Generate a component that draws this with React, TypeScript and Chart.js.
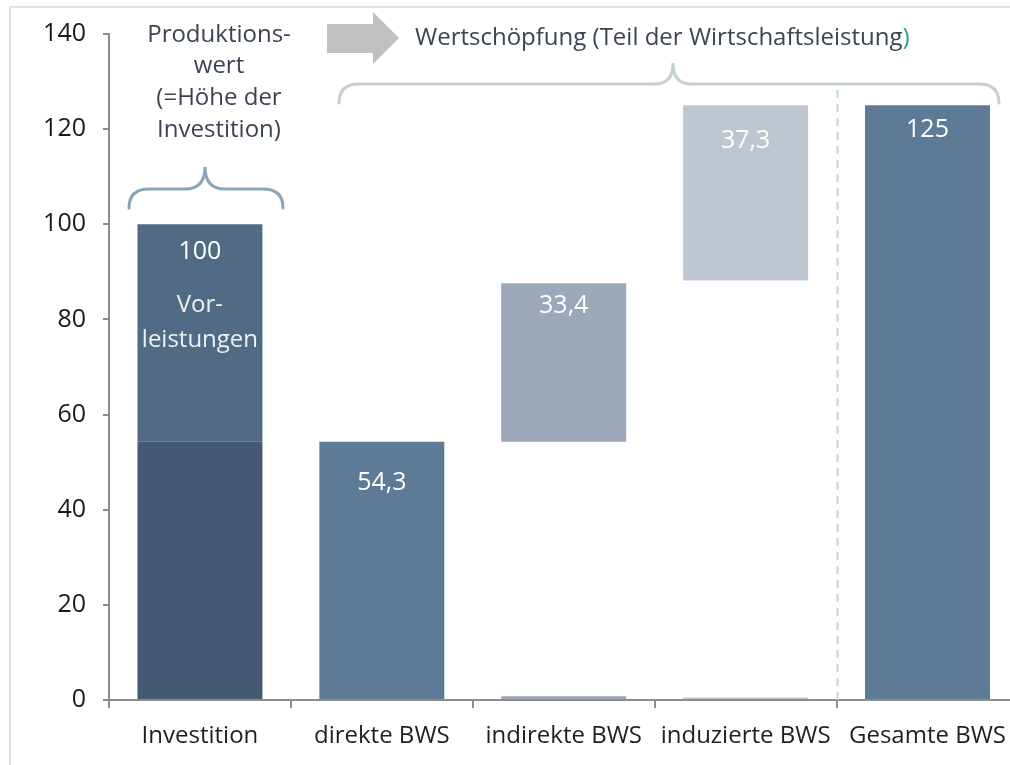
import React, { useEffect, useRef } from "react";
import { Chart, registerables } from "chart.js";

Chart.register(...registerables);

// ---- data ----
const categories = ["Investition", "direkte BWS", "indirekte BWS", "induzierte BWS", "Gesamte BWS"];
const barStart = [54.3, 0, 54.3, 88.2, 0];
const barEnd = [100, 54.3, 87.6, 125, 125];
const investBaseEnd = [54.3, null, null, null, null];
const stubEnd = [null, null, 0.8, 0.5, null];
const valueLabels = ["100", "54,3", "33,4", "37,3", "125"];
const yMin = 0;
const yMax = 140;
const yStep = 20;

// ---- styles ----
const FONT = "'Open Sans', 'Noto Sans', sans-serif";
const mainColors = ["#526b85", "#5d7a96", "#9aa8b8", "#bec7d1", "#5d7a96"];
const baseColor = "#435a72";
const labelOffsets = [28, 41, 23, 36, 25];
const W = 1020;
const H = 765;

function drawBrace(ctx: CanvasRenderingContext2D, x1: number, x2: number, xm: number, yb: number, yh: number, yt: number, r: number, rt: number, color: string, lw: number) {
  ctx.save();
  ctx.strokeStyle = color;
  ctx.lineWidth = lw;
  ctx.lineCap = "round";
  ctx.beginPath();
  ctx.moveTo(x1, yb);
  ctx.quadraticCurveTo(x1, yh, x1 + r, yh);
  ctx.lineTo(xm - rt, yh);
  ctx.quadraticCurveTo(xm, yh, xm, yt);
  ctx.quadraticCurveTo(xm, yh, xm + rt, yh);
  ctx.lineTo(x2 - r, yh);
  ctx.quadraticCurveTo(x2, yh, x2, yb);
  ctx.stroke();
  ctx.restore();
}

const overlay = {
  id: "overlay",
  beforeDraw(chart: any) {
    const ctx = chart.ctx as CanvasRenderingContext2D;
    ctx.save();
    ctx.fillStyle = "#ffffff";
    ctx.fillRect(0, 0, chart.width, chart.height);
    ctx.strokeStyle = "#e3e3e3";
    ctx.lineWidth = 2;
    ctx.beginPath();
    ctx.moveTo(10, H);
    ctx.lineTo(10, 7);
    ctx.lineTo(W, 7);
    ctx.stroke();
    ctx.restore();
  },
  afterDatasetsDraw(chart: any) {
    const ctx = chart.ctx as CanvasRenderingContext2D;
    const xs = chart.scales.x;
    const ys = chart.scales.y;
    ctx.save();

    // dashed separator
    const xd = Math.round((xs.getPixelForValue(3) + xs.getPixelForValue(4)) / 2) + 0.5;
    ctx.strokeStyle = "#c5cfd4";
    ctx.lineWidth = 2;
    ctx.setLineDash([8, 6]);
    ctx.beginPath();
    ctx.moveTo(xd, 90);
    ctx.lineTo(xd, ys.getPixelForValue(0));
    ctx.stroke();
    ctx.setLineDash([]);

    // value labels
    ctx.fillStyle = "#ffffff";
    ctx.font = `25px ${FONT}`;
    ctx.textAlign = "center";
    ctx.textBaseline = "middle";
    categories.forEach((_, i) => {
      const x = xs.getPixelForValue(i);
      const top = ys.getPixelForValue(barEnd[i]);
      ctx.fillText(valueLabels[i], x, top + labelOffsets[i]);
    });
    const x0 = xs.getPixelForValue(0);
    ctx.font = `24px ${FONT}`;
    ctx.fillStyle = "#eef1f4";
    ctx.fillText("Vor-", x0, 305);
    ctx.fillText("leistungen", x0, 340);

    // annotation text
    ctx.fillStyle = "#3b4453";
    ["Produktions-", "wert", "(=Höhe der", "Investition)"].forEach((t, k) => {
      ctx.fillText(t, 219, [35, 66, 98, 130][k]);
    });

    // title
    ctx.textAlign = "left";
    const title = "Wertschöpfung (Teil der Wirtschaftsleistung";
    ctx.fillText(title, 415, 38);
    const tw = ctx.measureText(title).width;
    ctx.fillStyle = "#2a9d8f";
    ctx.fillText(")", 415 + tw, 38);

    // arrow
    ctx.fillStyle = "#c0c0c0";
    ctx.beginPath();
    ctx.moveTo(327, 24);
    ctx.lineTo(373, 24);
    ctx.lineTo(373, 12);
    ctx.lineTo(399, 38);
    ctx.lineTo(373, 64);
    ctx.lineTo(373, 53);
    ctx.lineTo(327, 53);
    ctx.closePath();
    ctx.fill();

    // braces
    drawBrace(ctx, 129, 283, 205, 208, 189, 167, 20, 20, "#8aa5b8", 3);
    drawBrace(ctx, 339, 999, 673, 103, 84, 63, 20, 18, "#c5cfd4", 3);

    ctx.restore();
  },
};

export default function App() {
  const ref = useRef<HTMLCanvasElement | null>(null);
  useEffect(() => {
    if (!ref.current) return;
    const chart = new Chart(ref.current, {
      type: "bar",
      data: {
        labels: categories,
        datasets: [
          {
            label: "Wertschöpfung Investition",
            data: investBaseEnd.map((v) => (v === null ? null : [0, v])) as any,
            backgroundColor: baseColor,
            borderWidth: 0,
          },
          {
            label: "Werte",
            data: barStart.map((s, i) => [s, barEnd[i]]) as any,
            backgroundColor: mainColors,
            borderWidth: 0,
          },
          {
            label: "Rest",
            data: stubEnd.map((v) => (v === null ? null : [0, v])) as any,
            backgroundColor: mainColors,
            borderWidth: 0,
          },
        ],
      },
      options: {
        responsive: false,
        animation: false,
        layout: { padding: { top: 34, left: 0, right: 0, bottom: 0 } },
        datasets: { bar: { categoryPercentage: 1, barPercentage: 0.687 } },
        plugins: { legend: { display: false }, tooltip: { enabled: false } },
        scales: {
          x: {
            stacked: true,
            offset: true,
            grid: { offset: true, drawOnChartArea: false, drawTicks: true, tickLength: 8, color: "#8c8c8c", lineWidth: 2 },
            border: { display: true, color: "#8c8c8c", width: 2 },
            ticks: { color: "#1f1f1f", font: { family: FONT, size: 24 }, padding: 14, maxRotation: 0, autoSkip: false },
            afterFit: (s: any) => { s.height = 65; },
          },
          y: {
            min: yMin,
            max: yMax,
            grid: { drawOnChartArea: false, drawTicks: true, tickLength: 6, color: "#8c8c8c", lineWidth: 2 },
            border: { display: true, color: "#8c8c8c", width: 2 },
            ticks: { stepSize: yStep, color: "#1a1a1a", font: { family: FONT, size: 25 }, padding: 17 },
            afterFit: (s: any) => { s.width = 109; },
          },
        },
      },
      plugins: [overlay],
    });
    return () => chart.destroy();
  }, []);
  return (
    <div style={{ position: "fixed", left: 0, top: 0, width: 1010, height: 765, overflow: "hidden", background: "#fff" }}>
      <canvas ref={ref} width={W} height={H} style={{ position: "absolute", left: 0, top: 0 }} />
    </div>
  );
}
